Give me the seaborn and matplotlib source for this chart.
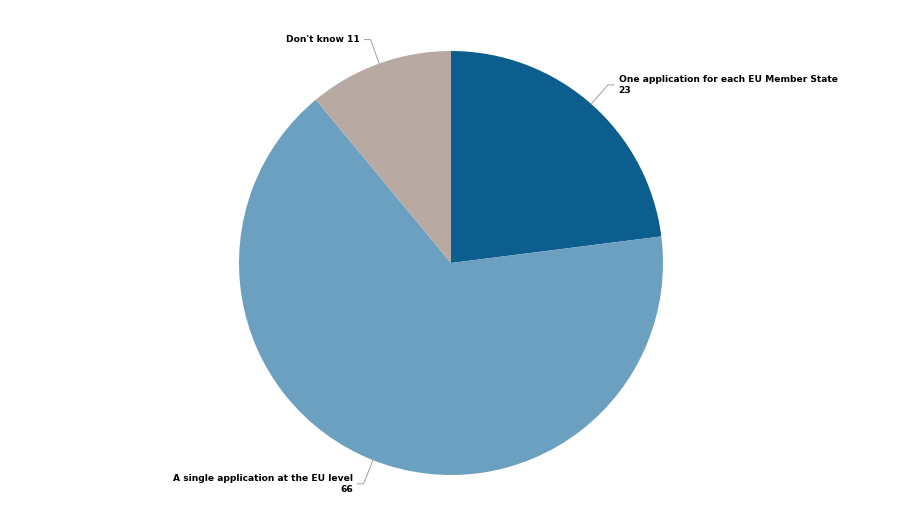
import numpy as np
import matplotlib.pyplot as plt
import seaborn as sns

sns.set_style("white")
plt.rcParams['font.family'] = ['DejaVu Sans']

# Data
labels = ["One application for each EU Member State", "A single application at the EU level", "Don't know"]
values = [23, 66, 11]
colors = ["#0b5e8e", "#6ca0c1", "#b8aaa3"]

fig = plt.figure(figsize=(9.23, 5.18), dpi=100)
# pie centre ~ (451, 263) px, radius ~ 212 px
r_px = 212
ax = fig.add_axes([(451 - r_px) / 923, (518 - 263 - r_px) / 518, 2 * r_px / 923, 2 * r_px / 518])

wedges, _ = ax.pie(values, colors=colors, startangle=90, counterclock=False,
                   radius=1, wedgeprops=dict(linewidth=0))
ax.set_xlim(-1, 1)
ax.set_ylim(-1, 1)
ax.set_aspect('equal')
ax.axis('off')

# Leader lines + labels
for w, lab, val in zip(wedges, labels, values):
    ang = np.deg2rad((w.theta1 + w.theta2) / 2)
    x0, y0 = np.cos(ang), np.sin(ang)
    ex, ey = 1.12 * x0, 1.12 * y0
    side = 1 if x0 > 0 else -1
    hx = ex + side * 0.03
    ax.plot([x0, ex, hx], [y0, ey, ey], color="#a0a0a0", lw=0.7, clip_on=False)
    if lab == "Don't know":
        txt = f"{lab} {val}"
    else:
        txt = f"{lab}\n{val}"
    ax.text(hx + side * 0.02, ey, txt, ha='left' if side > 0 else 'right', va='center',
            multialignment='left' if side > 0 else 'right',
            fontsize=6.6, fontweight='bold', color='black', linespacing=1.25, clip_on=False)

fig.savefig("out.png", dpi=100, facecolor="white")
